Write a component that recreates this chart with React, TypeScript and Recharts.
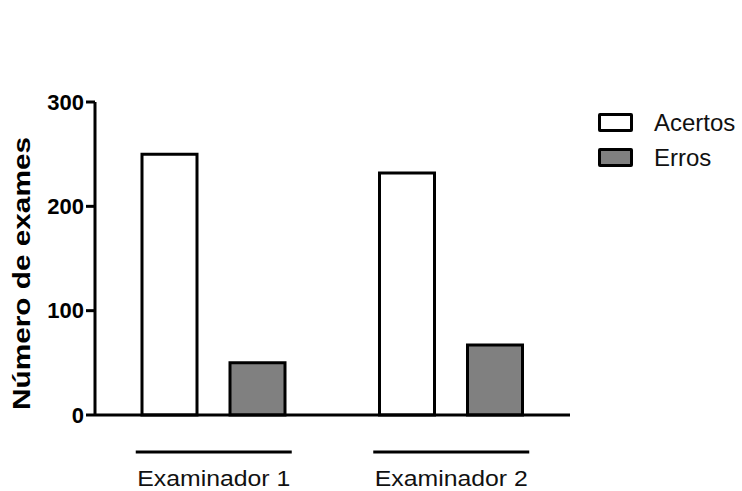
import React from "react";
import { BarChart, Bar, XAxis, YAxis, Legend } from "recharts";

const examinadores = ["Examinador 1", "Examinador 2"];
const acertos = [250, 232];
const erros = [50, 67];
const yTicks = [0, 100, 200, 300];

const data = examinadores.map((name, i) => ({
  name,
  acertos: acertos[i],
  erros: erros[i],
}));

const FONT = "'Liberation Sans', Arial, sans-serif";

const GroupTick = ({ x, y, payload }: any) => (
  <g>
    <line x1={x - 78} x2={x + 78} y1={y + 29} y2={y + 29} stroke="#000" strokeWidth={3} />
    <text
      x={x}
      y={y + 63}
      textAnchor="middle"
      fontFamily={FONT}
      fontSize={22}
      fill="#111"
      textLength={153}
      lengthAdjust="spacingAndGlyphs"
    >
      {payload.value}
    </text>
  </g>
);

const YLabel = ({ viewBox }: any) => {
  const cy = viewBox.y + viewBox.height / 2 + 15;
  return (
    <text
      x={30}
      y={cy}
      transform={`rotate(-90, 30, ${cy})`}
      textAnchor="middle"
      fontFamily={FONT}
      fontWeight="bold"
      fontSize={23}
      fill="#000"
      textLength={273}
      lengthAdjust="spacingAndGlyphs"
    >
      Número de exames
    </text>
  );
};

const LegendBox = ({ payload }: any) => (
  <div style={{ fontFamily: FONT }}>
    {(payload || []).map((entry: any) => (
      <div
        key={entry.value}
        style={{ display: "flex", alignItems: "center", height: 35 }}
      >
        <div
          style={{
            width: 29,
            height: 13,
            border: "3px solid #000",
            borderRadius: 2,
            background: entry.payload?.fill ?? entry.color,
          }}
        />
        <span style={{ marginLeft: 21, fontSize: 24, color: "#111" }}>{entry.value}</span>
      </div>
    ))}
  </div>
);

export default function App() {
  return (
    <div style={{ position: "absolute", left: 0, top: 0, background: "#fff" }}>
      <BarChart
        width={742}
        height={491}
        data={data}
        margin={{ top: 102, right: 28, bottom: 0, left: 0 }}
        barSize={55}
        barGap={33}
      >
        <YAxis
          width={95}
          domain={[0, 300]}
          ticks={yTicks}
          interval={0}
          tickSize={9}
          tickMargin={2}
          axisLine={{ stroke: "#000", strokeWidth: 3 }}
          tickLine={{ stroke: "#000", strokeWidth: 3 }}
          tick={{ fill: "#000", fontSize: 22, fontWeight: "bold", fontFamily: FONT }}
          label={<YLabel />}
        />
        <XAxis
          dataKey="name"
          height={76}
          tickLine={false}
          axisLine={{ stroke: "#000", strokeWidth: 3 }}
          tick={<GroupTick />}
          interval={0}
        />
        <Legend
          layout="vertical"
          verticalAlign="top"
          align="right"
          content={<LegendBox />}
          wrapperStyle={{ left: 598, top: 105, width: 144 }}
        />
        <Bar dataKey="acertos" name="Acertos" fill="#ffffff" stroke="#000" strokeWidth={3} isAnimationActive={false} />
        <Bar dataKey="erros" name="Erros" fill="#808080" stroke="#000" strokeWidth={3} isAnimationActive={false} />
      </BarChart>
    </div>
  );
}
